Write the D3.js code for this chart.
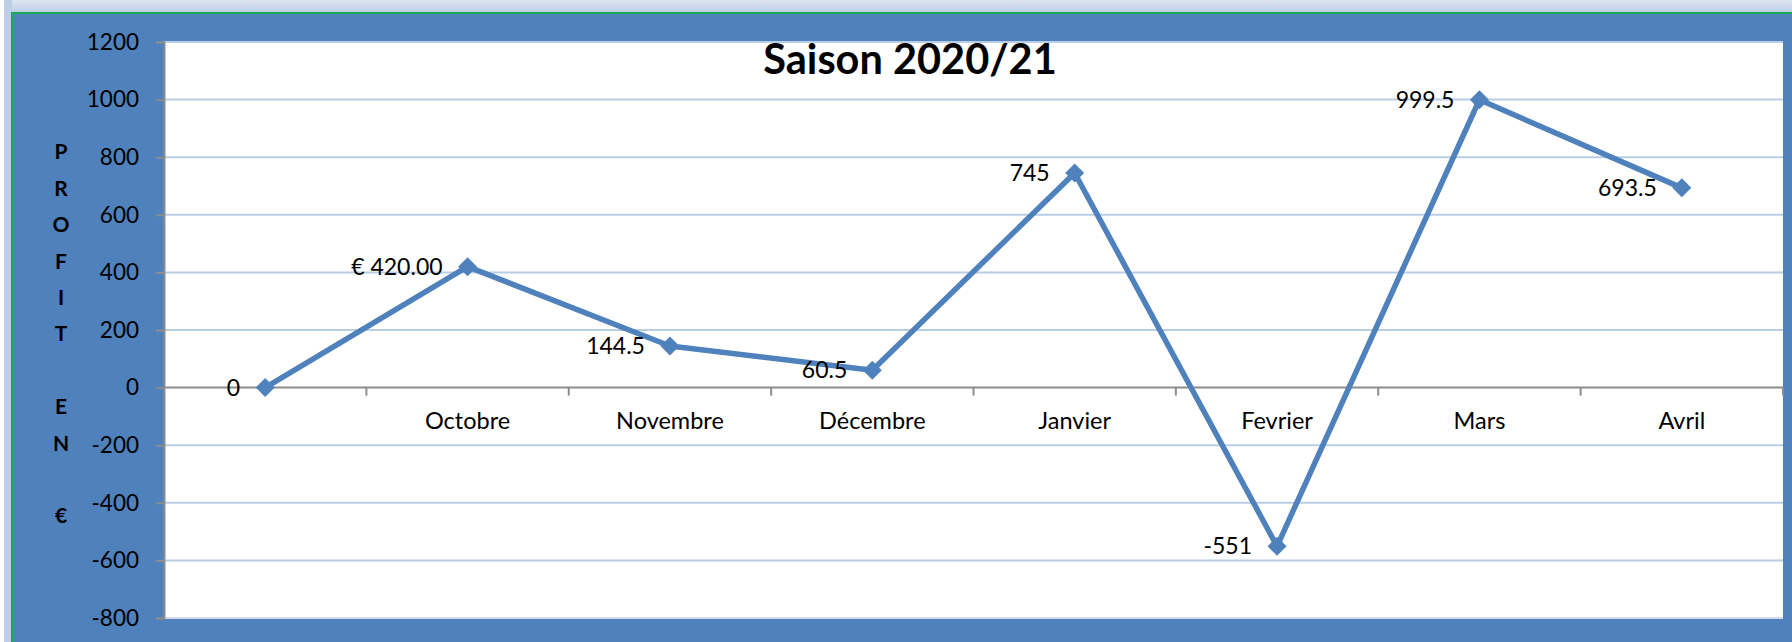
<!DOCTYPE html>
<html><head><meta charset="utf-8">
<script src="https://cdn.jsdelivr.net/npm/d3@7"></script>
<style>body{margin:0;background:#fff}svg{display:block}</style>
</head><body><svg id="c" width="1792" height="642"></svg>
<script>
const categories = ["", "Octobre", "Novembre", "Décembre", "Janvier", "Fevrier", "Mars", "Avril"];
const profits = [0, 420, 144.5, 60.5, 745, -551, 999.5, 693.5];
const valueLabels = ["0", "€ 420.00", "144.5", "60.5", "745", "-551", "999.5", "693.5"];
const yTicks = [1200, 1000, 800, 600, 400, 200, 0, -200, -400, -600, -800];
const chartTitle = "Saison 2020/21";
const axisTitleLetters = ["P", "R", "O", "F", "I", "T", "", "E", "N", "", "€"];

const W = 1792, H = 642;
const plot = {left: 164, right: 1783, top: 42, bottom: 618};
const font = "Lato, 'Open Sans', sans-serif";
const blue = "#4F81BD";

const svg = d3.select("#c");
const defs = svg.append("defs");
const grad = defs.append("linearGradient").attr("id", "topg").attr("x1", 0).attr("y1", 0).attr("x2", 0).attr("y2", 1);
grad.append("stop").attr("offset", "0%").attr("stop-color", "#DCE5F0");
grad.append("stop").attr("offset", "100%").attr("stop-color", "#BACDE4");

svg.append("rect").attr("width", W).attr("height", H).attr("fill", "#fff");
svg.append("rect").attr("x", 4).attr("y", 0).attr("width", W - 4).attr("height", 14).attr("fill", "url(#topg)");
svg.append("rect").attr("x", 4).attr("y", 0).attr("width", 8).attr("height", H).attr("fill", "#BDCFE6");
svg.append("rect").attr("x", 11).attr("y", 12).attr("width", W - 11).attr("height", 2).attr("fill", "#1AAA55");
svg.append("rect").attr("x", 11).attr("y", 12).attr("width", 2).attr("height", H - 12).attr("fill", "#1AAA55");
svg.append("rect").attr("x", 13).attr("y", 14).attr("width", W - 13).attr("height", H - 14).attr("fill", blue);
svg.append("rect").attr("x", plot.left).attr("y", plot.top)
  .attr("width", plot.right - plot.left).attr("height", plot.bottom - plot.top).attr("fill", "#fff");

const x = d3.scaleBand().domain(d3.range(categories.length)).range([plot.left, plot.right]).paddingInner(0).paddingOuter(0);
const y = d3.scaleLinear().domain([-800, 1200]).range([plot.bottom, plot.top]);
const cx = i => x(i) + x.bandwidth() / 2;

// gridlines
svg.append("g").selectAll("line").data(yTicks.filter(t => t !== 0)).join("line")
  .attr("x1", plot.left).attr("x2", plot.right)
  .attr("y1", d => y(d)).attr("y2", d => y(d))
  .attr("stroke", d => d === -800 ? "#D5DCE6" : "#B9CDE5").attr("stroke-width", 2);

// y axis
const yAxis = svg.append("g").attr("transform", `translate(${plot.left},0)`)
  .call(d3.axisLeft(y).tickValues(yTicks).tickSize(8).tickPadding(17).tickFormat(d => String(d)));
yAxis.select(".domain").attr("stroke", "#8C8C8C").attr("stroke-width", 2);
yAxis.selectAll(".tick line").attr("stroke", "#8C8C8C").attr("stroke-width", 2);
yAxis.selectAll(".tick text").attr("font-family", font).attr("font-size", 22.5).attr("fill", "#000");

// x axis along zero
const y0 = y(0);
svg.append("line").attr("x1", plot.left).attr("x2", plot.right).attr("y1", y0).attr("y2", y0)
  .attr("stroke", "#8C8C8C").attr("stroke-width", 2);
svg.append("g").selectAll("line").data(d3.range(1, categories.length + 1)).join("line")
  .attr("x1", i => i < categories.length ? x(i) : plot.right)
  .attr("x2", i => i < categories.length ? x(i) : plot.right)
  .attr("y1", y0).attr("y2", y0 + 8).attr("stroke", "#8C8C8C").attr("stroke-width", 2);
svg.append("g").selectAll("text").data(categories).join("text")
  .attr("x", (d, i) => cx(i)).attr("y", y0 + 41).attr("text-anchor", "middle")
  .attr("font-family", font).attr("font-size", 23.5).attr("fill", "#000").text(d => d);

// line
const line = d3.line().x((d, i) => cx(i)).y(d => y(d));
svg.append("path").datum(profits).attr("d", line).attr("fill", "none")
  .attr("stroke", blue).attr("stroke-width", 5.5).attr("stroke-linejoin", "round");

// markers
const r = 9.5;
svg.append("g").selectAll("path").data(profits).join("path")
  .attr("d", (d, i) => { const px = cx(i), py = y(d); return `M${px},${py - r}L${px + r},${py}L${px},${py + r}L${px - r},${py}Z`; })
  .attr("fill", blue);

// value labels
svg.append("g").selectAll("text").data(profits).join("text")
  .attr("x", (d, i) => cx(i) - 25).attr("y", d => y(d)).attr("dy", "0.35em")
  .attr("text-anchor", "end").attr("font-family", font).attr("font-size", 23).attr("fill", "#000")
  .text((d, i) => valueLabels[i]);

// title
svg.append("text").attr("x", 910).attr("y", 74).attr("text-anchor", "middle")
  .attr("font-family", font).attr("font-weight", "bold").attr("font-size", 41.5).attr("fill", "#000")
  .text(chartTitle);

// vertical axis title
svg.append("g").selectAll("text").data(axisTitleLetters).join("text")
  .attr("x", 61).attr("y", (d, i) => 152 + i * 36.4).attr("dy", "0.35em").attr("text-anchor", "middle")
  .attr("font-family", font).attr("font-weight", "bold").attr("font-size", 21).attr("fill", "#000")
  .text(d => d);
</script></body></html>
